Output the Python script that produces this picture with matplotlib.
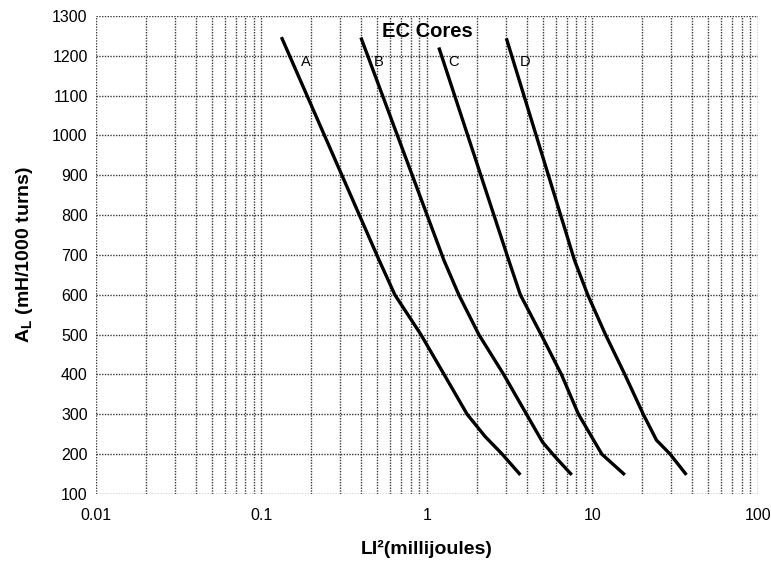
import numpy as np
import matplotlib
matplotlib.use("Agg")
import matplotlib.pyplot as plt

plt.rcParams["font.family"] = ["Liberation Sans", "DejaVu Sans"]

# curve data (LI^2 in mJ, A_L in mH/1000 turns)
a_x = [0.132, 0.514, 0.64, 0.92, 1.27, 1.75, 2.25, 2.85, 3.67]
a_y = [1247, 687, 600, 500, 400, 300, 244, 200, 148]
b_x = [0.399, 1.266, 1.558, 2.06, 2.91, 4.0, 5.0, 5.9, 7.5]
b_y = [1246, 687, 600, 500, 400, 300, 230, 195, 148]
c_x = [1.18, 3.12, 3.67, 4.9, 6.5, 8.24, 11.4, 15.7]
c_y = [1221, 687, 600, 500, 400, 300, 200, 148]
d_x = [3.02, 7.79, 9.37, 12.0, 15.7, 20.3, 24.4, 29.5, 37.0]
d_y = [1244, 687, 600, 500, 400, 300, 235, 200, 148]

curves = [(a_x, a_y), (b_x, b_y), (c_x, c_y), (d_x, d_y)]
labels = ["A", "B", "C", "D"]
label_x = [0.185, 0.51, 1.45, 3.9]
label_y = 1185

x_ticks = [0.01, 0.1, 1, 10, 100]
x_ticklabels = ["0.01", "0.1", "1", "10", "100"]
y_ticks = list(range(100, 1301, 100))

fig = plt.figure(figsize=(7.71, 5.65), dpi=100)
ax = fig.add_axes([0.1245, 0.1257, 0.8585, 0.846])

grid_kw = dict(color="#3a3a3a", linestyle=(0, (1, 1)), linewidth=1.0)
ax.set_xscale("log")
ax.set_xlim(0.01, 100)
ax.set_ylim(100, 1300)
ax.set_xticks(x_ticks)
ax.set_xticklabels(x_ticklabels)
ax.set_yticks(y_ticks)
ax.grid(True, which="both", axis="x", **grid_kw)
ax.grid(True, which="major", axis="y", **grid_kw)
ax.tick_params(which="both", length=0, labelsize=11.5, pad=6)
ax.tick_params(axis="x", pad=10)
for sp in ax.spines.values():
    sp.set_visible(False)

for (xs, ys) in curves:
    ax.plot(xs, ys, color="black", linewidth=2.4, solid_capstyle="butt",
            solid_joinstyle="round")

for lab, lx in zip(labels, label_x):
    ax.text(lx, label_y, lab, fontsize=10.5, ha="center", va="center")

ax.text(1.0, 1262, "EC Cores", fontsize=14.5, fontweight="bold",
        ha="center", va="center")

ax.set_xlabel("LI²(millijoules)", fontsize=14, fontweight="bold", labelpad=12)
ax.set_ylabel(r"A$_\mathregular{L}$ (mH/1000 turns)", fontsize=14,
              fontweight="bold", labelpad=12)

fig.savefig("out.png", dpi=100)
